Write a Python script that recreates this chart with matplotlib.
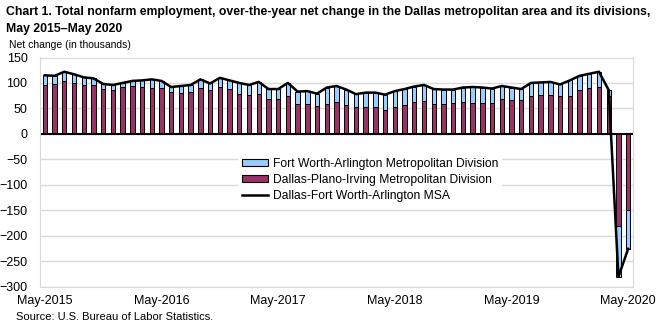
import numpy as np
import matplotlib
matplotlib.use("Agg")
import matplotlib.pyplot as plt
from matplotlib.patches import Patch
from matplotlib.lines import Line2D

# over-the-year net change, thousands, May 2015 .. May 2020
months = ["May-2015", "May-2016", "May-2017", "May-2018", "May-2019", "May-2020"]
dallas = [96, 97, 103, 99, 96, 96, 88, 86, 93, 94, 92, 91, 90, 82, 80, 82, 90, 86, 92, 89,
          78, 76, 78, 68, 68, 74, 58, 58, 55, 58, 62, 57, 52, 52, 52, 46, 52, 56, 62, 64,
          58, 58, 61, 62, 60, 60, 60, 68, 66, 66, 74, 76, 76, 74, 74, 86, 90, 93, 74,
          -182, -149]
fort_worth = [19, 17, 19, 18, 15, 13, 10, 10, 7, 10, 13, 16, 14, 10, 14, 14, 17, 13, 18, 16,
              22, 20, 24, 20, 20, 26, 25, 26, 24, 33, 32, 30, 26, 29, 29, 31, 32, 32, 31, 32,
              30, 29, 26, 29, 32, 31, 29, 26, 25, 22, 26, 25, 26, 23, 31, 28, 28, 29, 12,
              -99, -77]
msa = [115, 114, 122, 117, 111, 109, 98, 96, 100, 104, 105, 107, 104, 92, 94, 96, 107, 99, 110, 105,
       100, 96, 102, 88, 88, 100, 83, 84, 79, 91, 94, 87, 78, 81, 81, 77, 84, 88, 93, 96,
       88, 87, 87, 91, 92, 91, 89, 94, 91, 88, 100, 101, 102, 97, 105, 114, 118, 122, 86,
       -281, -226]

maroon = "#993366"
lightblue = "#99ccff"
W, H = 664, 327

plt.rcParams['font.family'] = ['Liberation Sans', 'DejaVu Sans']

fig = plt.figure(figsize=(W / 100, H / 100), dpi=100)
ax = fig.add_axes([40 / W, 1 - 286.5 / H, 593 / W, 229 / H])

x = np.arange(len(dallas))
ax.bar(x, dallas, width=0.45, color=maroon, edgecolor="black", linewidth=0.7, zorder=2)
ax.bar(x, fort_worth, bottom=dallas, width=0.45, color=lightblue, edgecolor="black",
       linewidth=0.7, zorder=2)
ax.plot(x, msa, color="black", lw=1.8, zorder=3)
ax.axhline(0, color="black", lw=1.5, zorder=2.5)

ax.set_xlim(-0.5, len(dallas) - 0.5)
ax.set_ylim(-300, 150)
ax.set_yticks(range(-300, 151, 50))
ax.set_xticks(range(0, len(dallas), 12))
ax.set_xticklabels(months)
ax.tick_params(length=0, labelsize=9)
ax.tick_params(axis="y", pad=9)
ax.tick_params(axis="x", pad=6)
ax.grid(axis="y", color="#d9d9d9", lw=1)
ax.set_axisbelow(True)
for s in ax.spines.values():
    s.set_color("#d9d9d9")

handles = [Patch(facecolor=lightblue, edgecolor="black", lw=0.8),
           Patch(facecolor=maroon, edgecolor="black", lw=0.8),
           Line2D([], [], color="black", lw=1.8)]
labels = ["Fort Worth-Arlington Metropolitan Division",
          "Dallas-Plano-Irving Metropolitan Division",
          "Dallas-Fort Worth-Arlington MSA"]
leg = ax.legend(handles, labels, loc="upper left", bbox_to_anchor=(238 / W, 1 - 154 / H),
                bbox_transform=fig.transFigure, fontsize=8.75, frameon=True, fancybox=False,
                facecolor="white", edgecolor="none", framealpha=1, borderpad=0.3,
                borderaxespad=0, handlelength=2.2, handleheight=0.6, handletextpad=0.35,
                labelspacing=0.33)
leg.set_zorder(4)

fig.text(6 / W, 1 - 12 / H, "Chart 1. Total nonfarm employment, over-the-year net change in the Dallas metropolitan area and its divisions,",
         fontsize=8.8, fontweight="bold", va="center")
fig.text(6 / W, 1 - 29 / H, "May 2015\u2013May 2020",
         fontsize=8.8, fontweight="bold", va="center")
fig.text(9 / W, 1 - 45 / H, "Net change (in thousands)", fontsize=7.5, va="center")
fig.text(16 / W, 1 - 317 / H, "Source: U.S. Bureau of Labor Statistics.", fontsize=8, va="center")

fig.savefig("out.png", dpi=100)
